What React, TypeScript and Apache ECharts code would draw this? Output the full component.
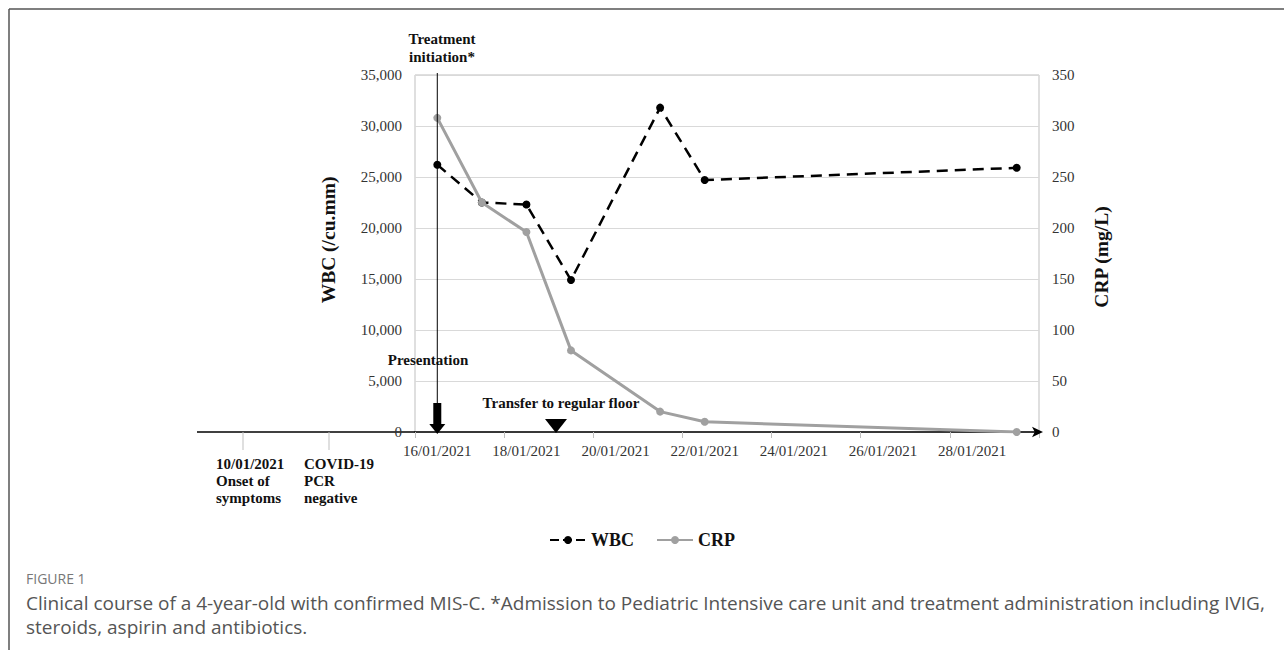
import React, { useEffect, useRef } from "react";
import * as echarts from "echarts";

// x-axis categories (one per day)
const dayLabels = [
  "16/01/2021", "17/01/2021", "18/01/2021", "19/01/2021", "20/01/2021",
  "21/01/2021", "22/01/2021", "23/01/2021", "24/01/2021", "25/01/2021",
  "26/01/2021", "27/01/2021", "28/01/2021", "29/01/2021",
];
// measurement dates
const sampleDates = [
  "16/01/2021", "17/01/2021", "18/01/2021", "19/01/2021",
  "21/01/2021", "22/01/2021", "29/01/2021",
];
const wbcValues = [26200, 22500, 22300, 14900, 31800, 24700, 25900];
const crpValues = [308, 225, 196, 80, 20, 10, 0];

const seriesNames = ["WBC", "CRP"];
const leftAxisTitle = "WBC (/cu.mm)";
const rightAxisTitle = "CRP (mg/L)";
const preTimeline = [
  "10/01/2021\nOnset of\nsymptoms",
  "COVID-19\nPCR\nnegative",
];
const captionTitle = "FIGURE 1";
const captionLines = [
  "Clinical course of a 4-year-old with confirmed MIS-C. *Admission to Pediatric Intensive care unit and treatment administration including IVIG,",
  "steroids, aspirin and antibiotics.",
];

const SERIF = "'Liberation Serif', 'Times New Roman', serif";
const SANS = "'Open Sans', 'Noto Sans', sans-serif";

export default function App() {
  const ref = useRef<HTMLDivElement>(null);

  useEffect(() => {
    document.body.style.margin = "0";
    if (!ref.current) return;
    const chart = echarts.init(ref.current, undefined, { renderer: "svg" });

    const baseY = 432;
    const option: any = {
      animation: false,
      backgroundColor: "#ffffff",
      grid: {
        left: 415,
        right: 245,
        top: 75,
        bottom: 218,
        show: true,
        borderColor: "#bfbfbf",
        borderWidth: 1,
      },
      legend: {
        data: [
          { name: seriesNames[0], lineStyle: { type: [9, 4] } },
          { name: seriesNames[1] },
        ],
        top: 526,
        left: "center",
        itemWidth: 36,
        itemHeight: 10,
        itemGap: 22,
        textStyle: { fontFamily: SERIF, fontWeight: "bold", fontSize: 18, color: "#111" },
      },
      xAxis: {
        type: "category",
        data: dayLabels,
        boundaryGap: true,
        axisLine: {
          show: true,
          lineStyle: { color: "#000", width: 1.5 },
          symbol: ["none", "arrow"],
          symbolSize: [8, 11],
          symbolOffset: [0, 4],
        },
        axisTick: { show: true, interval: 1, length: 6, lineStyle: { color: "#bfbfbf" } },
        axisLabel: {
          interval: 1,
          margin: 11,
          fontFamily: SERIF,
          fontSize: 15,
          color: "#333",
        },
        splitLine: { show: false },
      },
      yAxis: [
        {
          type: "value",
          min: 0,
          max: 35000,
          interval: 5000,
          axisLine: { show: false },
          axisTick: { show: false },
          axisLabel: { margin: 13, fontFamily: SERIF, fontSize: 15, color: "#333" },
          splitLine: { show: true, lineStyle: { color: "#d9d9d9", width: 1.2 } },
        },
        {
          type: "value",
          min: 0,
          max: 350,
          interval: 50,
          position: "right",
          axisLine: { show: false },
          axisTick: { show: false },
          axisLabel: { margin: 13, fontFamily: SERIF, fontSize: 15, color: "#333" },
          splitLine: { show: false },
        },
      ],
      series: [
        {
          name: seriesNames[0],
          type: "line",
          yAxisIndex: 0,
          data: sampleDates.map((d, i) => [d, wbcValues[i]]),
          symbol: "circle",
          symbolSize: 8,
          itemStyle: { color: "#000" },
          lineStyle: { color: "#000", width: 2.5, type: [11, 7] },
          z: 3,
        },
        {
          name: seriesNames[1],
          type: "line",
          yAxisIndex: 1,
          data: sampleDates.map((d, i) => [d, crpValues[i]]),
          symbol: "circle",
          symbolSize: 8,
          itemStyle: { color: "#a0a0a0" },
          lineStyle: { color: "#a0a0a0", width: 3 },
          z: 4,
        },
      ],
    };
    chart.setOption(option);

    const xStart = chart.convertToPixel({ xAxisIndex: 0 }, dayLabels[0]) as number;
    const graphic: any[] = [
      // figure frame
      { type: "line", shape: { x1: 9, y1: 9, x2: 1284, y2: 9 }, style: { stroke: "#555", lineWidth: 1.5 } },
      { type: "line", shape: { x1: 9, y1: 9, x2: 9, y2: 650 }, style: { stroke: "#555", lineWidth: 1.5 } },
      // left timeline extension
      { type: "line", shape: { x1: 197, y1: baseY, x2: 415, y2: baseY }, style: { stroke: "#000", lineWidth: 1.5 } },
      { type: "line", shape: { x1: 243, y1: baseY, x2: 243, y2: 450 }, style: { stroke: "#bfbfbf", lineWidth: 1 } },
      { type: "line", shape: { x1: 329, y1: baseY, x2: 329, y2: 450 }, style: { stroke: "#bfbfbf", lineWidth: 1 } },
      {
        type: "text", x: 216, y: 455,
        style: { text: preTimeline[0], fontFamily: SERIF, fontWeight: "bold", fontSize: 15, lineHeight: 17, fill: "#111" },
      },
      {
        type: "text", x: 304, y: 455,
        style: { text: preTimeline[1], fontFamily: SERIF, fontWeight: "bold", fontSize: 15, lineHeight: 17, fill: "#111" },
      },
      // treatment initiation line
      { type: "line", shape: { x1: xStart, y1: 73, x2: xStart, y2: 410 }, style: { stroke: "#000", lineWidth: 1 }, z: 10 },
      {
        type: "text", x: 442, y: 48,
        style: {
          text: "Treatment\ninitiation*", fontFamily: SERIF, fontWeight: "bold", fontSize: 15, lineHeight: 18,
          fill: "#111", textAlign: "center", textVerticalAlign: "middle",
        },
      },
      // presentation arrow
      {
        type: "text", x: 428, y: 360,
        style: {
          text: "Presentation", fontFamily: SERIF, fontWeight: "bold", fontSize: 15,
          fill: "#111", textAlign: "center", textVerticalAlign: "middle",
        },
      },
      { type: "rect", shape: { x: xStart - 4, y: 403, width: 8, height: 22 }, style: { fill: "#000" }, z: 10 },
      {
        type: "polygon",
        shape: { points: [[xStart - 8, 424], [xStart + 8, 424], [xStart, 434]] },
        style: { fill: "#000" }, z: 10,
      },
      // transfer marker
      {
        type: "text", x: 561, y: 403,
        style: {
          text: "Transfer to regular floor", fontFamily: SERIF, fontWeight: "bold", fontSize: 15,
          fill: "#111", textAlign: "center", textVerticalAlign: "middle",
        },
      },
      {
        type: "polygon",
        shape: { points: [[545, 419], [567, 419], [556, 433]] },
        style: { fill: "#000" }, z: 10,
      },
      // axis titles
      {
        type: "text", x: 328, y: 240, rotation: Math.PI / 2,
        style: {
          text: leftAxisTitle, fontFamily: SERIF, fontWeight: "bold", fontSize: 19.5,
          fill: "#111", textAlign: "center", textVerticalAlign: "middle",
        },
      },
      {
        type: "text", x: 1101, y: 257, rotation: Math.PI / 2,
        style: {
          text: rightAxisTitle, fontFamily: SERIF, fontWeight: "bold", fontSize: 19.5,
          fill: "#111", textAlign: "center", textVerticalAlign: "middle",
        },
      },
      // caption
      {
        type: "text", x: 26, y: 578,
        style: { text: captionTitle, fontFamily: SANS, fontSize: 14, fill: "#777", textVerticalAlign: "middle" },
      },
      {
        type: "text", x: 26, y: 603,
        style: { text: captionLines[0], fontFamily: SANS, fontSize: 19, fill: "#555", textVerticalAlign: "middle" },
      },
      {
        type: "text", x: 26, y: 627,
        style: { text: captionLines[1], fontFamily: SANS, fontSize: 19, fill: "#555", textVerticalAlign: "middle" },
      },
    ];
    chart.setOption({ graphic });

    return () => chart.dispose();
  }, []);

  return <div ref={ref} style={{ width: 1284, height: 650 }} />;
}
